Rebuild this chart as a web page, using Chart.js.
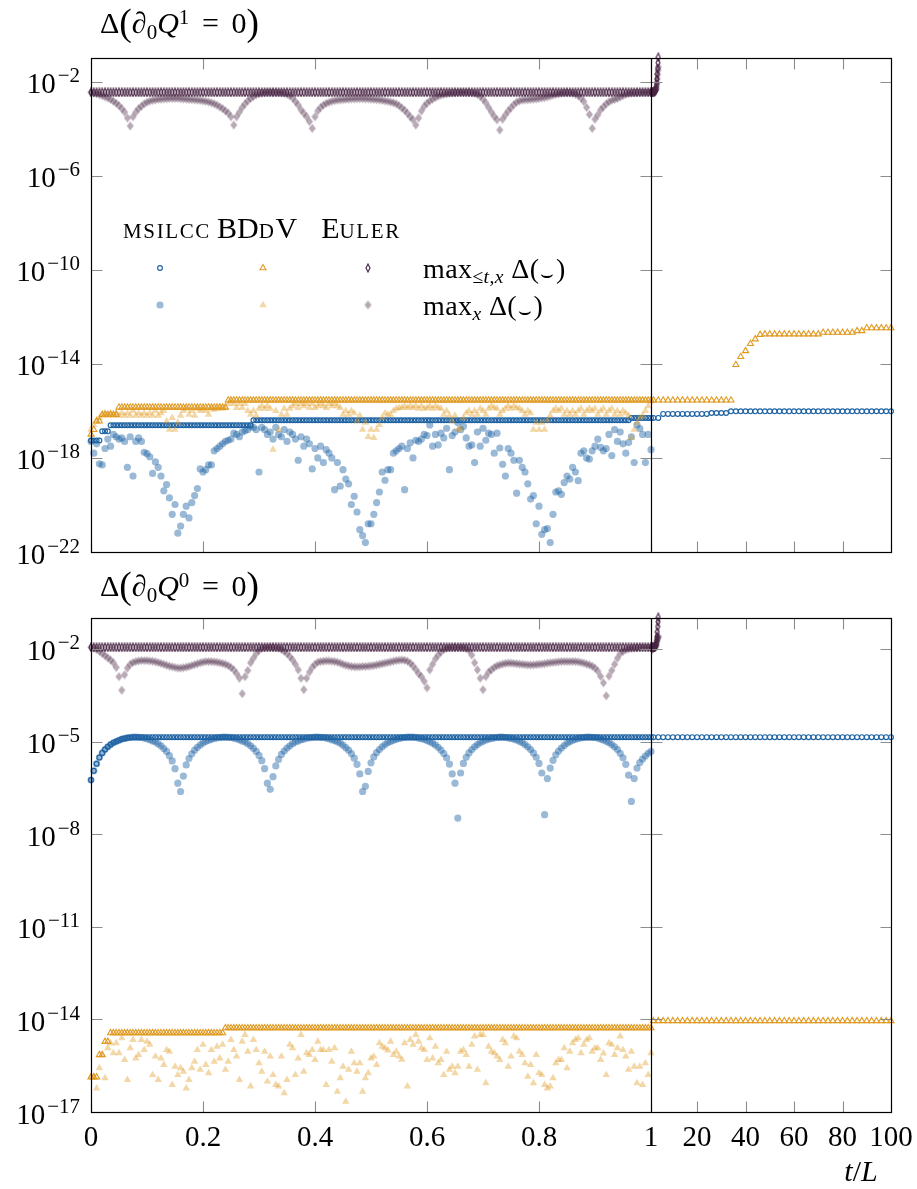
<!DOCTYPE html>
<html>
<head>
<meta charset="utf-8">
<script src="https://cdn.jsdelivr.net/npm/chart.js@4.4.1/dist/chart.umd.min.js"></script>
<style>
  body { margin: 0; background: #fff; width: 917px; height: 1189px; position: relative; overflow: hidden; }
  canvas { position: absolute; left: 0; }
  .lbl { position: absolute; font-family: 'Liberation Serif', serif; white-space: nowrap; color: #000; }
  .lbl sub, .lbl sup { font-size: 0.7em; line-height: 0; position: relative; vertical-align: baseline; }
  .lbl sub { top: 0.28em; }
  .lbl sup { top: -0.45em; }
  .bp { font-size: 1.25em; line-height: 0; position: relative; top: 0.06em; }
  .rel { margin: 0 0.42em; }
  .sc { font-variant: small-caps; letter-spacing: 1.6px; }
  .cup { font-size: 0.75em; position: relative; top: 0.12em; margin: 0 0.05em; }
  .ttl { font-size: 30px; line-height: 30px; }
  .leg { font-size: 28px; line-height: 28px; letter-spacing: 0.4px; }
  .head { font-size: 30px; line-height: 30px; }
  .ctr { transform: translateX(-50%); }
</style>
</head>
<body>
<canvas id="q1" width="917" height="575" style="top:0"></canvas>
<canvas id="q0" width="917" height="599" style="top:590px"></canvas>

<div class="lbl ttl" style="left:100px;top:8px">Δ<span class="bp">(</span>∂<sub>0</sub><i>Q</i><sup>1</sup><span class="rel">=</span>0<span class="bp">)</span></div>
<div class="lbl ttl" style="left:100px;top:571px">Δ<span class="bp">(</span>∂<sub>0</sub><i>Q</i><sup>0</sup><span class="rel">=</span>0<span class="bp">)</span></div>

<div class="lbl head ctr sc" style="left:167px;top:213px">msilcc</div>
<div class="lbl head ctr" style="left:257px;top:213px">BD<span class="sc">d</span>V</div>
<div class="lbl head ctr" style="left:361px;top:213px">E<span class="sc">uler</span></div>
<div class="lbl leg" style="left:423px;top:255px">max<sub>≤<i>t</i>,<i>x</i></sub> Δ(<span class="cup">⌣</span>)</div>
<div class="lbl leg" style="left:423px;top:292px">max<sub><i>x</i></sub> Δ(<span class="cup">⌣</span>)</div>

<div class="lbl ttl ctr" style="left:861px;top:1156px"><i>t</i>/<i>L</i></div>

<script>
// ---- data (values are log10 of the plotted quantity) ----

// output times: 0..1 every 0.005, then the long run
const tEarly = Array.from({length: 201}, (_, i) => +(i * 0.005).toFixed(3));
const tLate = [2,4,6,8,10,12,14,16,18,20,22,24,26,28,30,32,34,36,38,40,42,44,46,48,50,
  52,54,56,58,60,62,64,66,68,70,72,74,76,78,80,82,84,86,88,90,92,94,96,98,100];
const tEulerLate = [1.2,1.5,1.8,2.1,2.4,2.7,3.0,3.15,3.3,3.45,3.6,3.75,3.9,4.0];

const xTicks = [0, 0.2, 0.4, 0.6, 0.8, 1, 20, 40, 60, 80, 100];
const xTickLabels = ['0', '0.2', '0.4', '0.6', '0.8', '1', '20', '40', '60', '80', '100'];
const q1YTicks = [-22, -18, -14, -10, -6, -2];
const q0YTicks = [-17, -14, -11, -8, -5, -2];

// --- dQ1 = 0 panel ---
const q1MsilccMax = [
  -17.26,-17.26,-17.26,-17.26,-16.87,-16.87,-16.87,-16.61,-16.61,-16.61,
  -16.61,-16.61,-16.61,-16.61,-16.61,-16.61,-16.61,-16.61,-16.61,-16.61,
  -16.61,-16.61,-16.61,-16.61,-16.61,-16.61,-16.61,-16.61,-16.61,-16.61,
  -16.61,-16.61,-16.61,-16.61,-16.61,-16.61,-16.61,-16.61,-16.61,-16.61,
  -16.61,-16.61,-16.61,-16.61,-16.61,-16.61,-16.61,-16.61,-16.61,-16.61,
  -16.61,-16.61,-16.61,-16.61,-16.61,-16.61,-16.61,-16.61,-16.4,-16.4,
  -16.4,-16.4,-16.4,-16.4,-16.4,-16.4,-16.4,-16.4,-16.4,-16.4,
  -16.4,-16.4,-16.4,-16.4,-16.4,-16.4,-16.4,-16.4,-16.4,-16.4,
  -16.4,-16.4,-16.4,-16.4,-16.4,-16.4,-16.4,-16.4,-16.4,-16.4,
  -16.4,-16.4,-16.4,-16.4,-16.4,-16.4,-16.4,-16.4,-16.4,-16.4,
  -16.4,-16.4,-16.4,-16.4,-16.4,-16.4,-16.4,-16.4,-16.4,-16.4,
  -16.4,-16.4,-16.4,-16.4,-16.4,-16.4,-16.4,-16.4,-16.4,-16.4,
  -16.4,-16.4,-16.4,-16.4,-16.4,-16.4,-16.4,-16.4,-16.4,-16.4,
  -16.4,-16.4,-16.4,-16.4,-16.4,-16.4,-16.4,-16.4,-16.4,-16.4,
  -16.4,-16.4,-16.4,-16.4,-16.4,-16.4,-16.4,-16.4,-16.4,-16.4,
  -16.4,-16.4,-16.4,-16.4,-16.4,-16.4,-16.4,-16.4,-16.4,-16.4,
  -16.4,-16.4,-16.4,-16.4,-16.4,-16.4,-16.4,-16.4,-16.4,-16.4,
  -16.4,-16.4,-16.4,-16.4,-16.4,-16.4,-16.4,-16.4,-16.4,-16.4,
  -16.4,-16.4,-16.4,-16.4,-16.4,-16.4,-16.4,-16.4,-16.4,-16.4,
  -16.4,-16.4,-16.4,-16.3,-16.3,-16.3,-16.3,-16.3,-16.3,-16.3,
  -16.3
];
const q1MsilccMaxLate = [-16.3,-16.3,-16.13,-16.13,-16.13,-16.13,-16.13,-16.13,-16.13,-16.13,
  -16.13,-16.13,-16.09,-16.09,-16.09,-16.09,-16.02,-16.02,-16.02,-16.02,
  -16.02,-16.02,-16.02,-16.02,-16.02,-16.02,-16.02,-16.02,-16.02,-16.02,
  -16.02,-16.02,-16.02,-16.02,-16.02,-16.02,-16.02,-16.02,-16.02,-16.02,
  -16.02,-16.02,-16.02,-16.02,-16.02,-16.02,-16.02,-16.02,-16.02,-16.02];
const q1MsilccNow = [
  -17.3,-17.8,-17.4,-18.25,-18.3,-17.6,-17.2,-17.5,-17.0,-17.1,
  -17.2,-17.15,-17.3,-18.4,-17.1,-18.77,-17.3,-17.15,-17.3,-17.76,
  -17.82,-17.95,-18.66,-18.17,-18.4,-18.77,-19.4,-19.13,-19.7,-20.4,
  -19.98,-21.2,-20.9,-20.4,-20.05,-20.55,-19.9,-19.6,-19.3,-18.47,
  -18.6,-18.5,-18.3,-18.3,-17.7,-17.6,-17.5,-17.4,-17.3,-17.25,
  -17.2,-16.95,-17.0,-17.1,-16.9,-16.85,-16.8,-16.66,-16.7,-16.8,
  -18.6,-16.7,-16.8,-17.0,-16.9,-17.2,-16.7,-17.0,-17.1,-16.8,
  -17.3,-16.9,-17.0,-17.2,-18.1,-17.1,-17.5,-17.2,-17.4,-18.47,
  -17.6,-18.0,-17.5,-18.2,-17.65,-17.8,-18.0,-19.35,-18.2,-19.2,
  -18.5,-18.9,-19.1,-19.98,-19.63,-20.3,-21.05,-21.3,-21.6,-20.8,
  -20.8,-20.4,-19.9,-19.45,-18.6,-18.95,-18.5,-18.5,-17.8,-17.7,
  -17.6,-17.5,-19.35,-17.6,-17.36,-18.0,-17.25,-17.3,-17.2,-17.0,
  -17.05,-16.6,-17.5,-17.0,-17.45,-16.95,-17.15,-16.74,-18.5,-17.05,
  -16.9,-16.5,-16.8,-16.66,-17.15,-17.5,-17.45,-18.2,-16.9,-17.5,
  -16.74,-17.25,-16.95,-17.0,-17.8,-16.95,-17.58,-18.27,-18.77,-17.6,
  -17.8,-18.1,-19.5,-18.1,-18.4,-18.6,-19.1,-19.75,-19.6,-20.8,
  -20.05,-21.25,-21.05,-21.0,-21.6,-20.4,-19.45,-19.4,-19.55,-19.05,
  -18.77,-18.9,-18.4,-18.6,-18.97,-17.8,-17.7,-18.0,-18.05,-17.7,
  -17.5,-17.2,-17.55,-17.7,-17.6,-17.0,-17.9,-16.8,-17.3,-16.9,
  -17.4,-17.8,-17.35,-17.1,-18.2,-16.6,-16.75,-17.0,-18.2,-17.0,
  -17.65
];
const q1BddvMax = [
  -17.0,-16.8,-16.44,-16.44,-16.16,-16.16,-16.16,-16.16,-16.16,-16.16,
  -15.85,-15.85,-15.85,-15.85,-15.85,-15.85,-15.85,-15.85,-15.85,-15.85,
  -15.85,-15.85,-15.85,-15.85,-15.85,-15.85,-15.85,-15.85,-15.85,-15.85,
  -15.85,-15.85,-15.85,-15.85,-15.85,-15.85,-15.85,-15.85,-15.85,-15.85,
  -15.85,-15.85,-15.85,-15.85,-15.85,-15.85,-15.85,-15.85,-15.85,-15.55,
  -15.55,-15.55,-15.55,-15.55,-15.55,-15.55,-15.55,-15.55,-15.55,-15.55,
  -15.55,-15.55,-15.55,-15.55,-15.55,-15.55,-15.55,-15.55,-15.55,-15.55,
  -15.55,-15.55,-15.55,-15.55,-15.55,-15.55,-15.55,-15.55,-15.55,-15.55,
  -15.55,-15.55,-15.55,-15.55,-15.55,-15.55,-15.55,-15.55,-15.55,-15.55,
  -15.55,-15.55,-15.55,-15.55,-15.55,-15.55,-15.55,-15.55,-15.55,-15.55,
  -15.55,-15.55,-15.55,-15.55,-15.55,-15.55,-15.55,-15.55,-15.55,-15.55,
  -15.55,-15.55,-15.55,-15.55,-15.55,-15.55,-15.55,-15.55,-15.55,-15.55,
  -15.55,-15.55,-15.55,-15.55,-15.55,-15.55,-15.55,-15.55,-15.55,-15.55,
  -15.55,-15.55,-15.55,-15.55,-15.55,-15.55,-15.55,-15.55,-15.55,-15.55,
  -15.55,-15.55,-15.55,-15.55,-15.55,-15.55,-15.55,-15.55,-15.55,-15.55,
  -15.55,-15.55,-15.55,-15.55,-15.55,-15.55,-15.55,-15.55,-15.55,-15.55,
  -15.55,-15.55,-15.55,-15.55,-15.55,-15.55,-15.55,-15.55,-15.55,-15.55,
  -15.55,-15.55,-15.55,-15.55,-15.55,-15.55,-15.55,-15.55,-15.55,-15.55,
  -15.55,-15.55,-15.55,-15.55,-15.55,-15.55,-15.55,-15.55,-15.55,-15.55,
  -15.55,-15.55,-15.55,-15.55,-15.55,-15.55,-15.55,-15.55,-15.55,-15.55,
  -15.55
];
const q1BddvMaxLate = [-15.55,-15.55,-15.55,-15.55,-15.55,-15.55,-15.55,-15.55,-15.55,-15.55,
  -15.55,-15.55,-15.55,-15.55,-15.55,-15.55,-15.55,-14.04,-13.7,-13.45,
  -13.15,-12.95,-12.76,-12.74,-12.74,-12.74,-12.74,-12.74,-12.74,-12.74,
  -12.74,-12.74,-12.74,-12.74,-12.74,-12.67,-12.67,-12.67,-12.67,-12.67,
  -12.67,-12.67,-12.6,-12.6,-12.48,-12.48,-12.48,-12.48,-12.48,-12.48];
const q1BddvNow = [
  -16.8,-16.6,-16.4,-16.3,-16.2,-16.1,-16.2,-16.1,-16.2,-16.1,
  -16.2,-16.1,-16.2,-16.1,-16.2,-16.0,-16.2,-16.1,-16.2,-16.1,
  -16.2,-16.1,-16.2,-16.0,-16.2,-16.1,-16.0,-16.44,-16.8,-16.3,
  -16.8,-16.5,-16.2,-16.0,-15.9,-16.16,-16.0,-16.2,-15.9,-16.0,
  -15.9,-16.0,-16.16,-15.9,-15.95,-15.9,-15.85,-15.9,-15.85,-15.7,
  -15.6,-15.7,-15.87,-15.7,-15.87,-15.7,-16.0,-16.16,-16.0,-16.2,
  -15.9,-15.8,-15.9,-15.8,-15.9,-17.65,-16.0,-16.8,-16.16,-15.9,
  -16.16,-15.9,-15.8,-15.7,-15.87,-15.7,-15.8,-15.7,-15.87,-15.7,
  -15.87,-15.8,-15.7,-15.8,-15.87,-15.7,-15.8,-15.7,-15.8,-15.87,
  -16.16,-16.0,-16.16,-16.0,-16.1,-16.44,-16.2,-16.8,-16.5,-17.1,
  -16.8,-17.15,-16.8,-16.6,-16.3,-16.1,-16.16,-16.16,-16.0,-15.9,
  -15.87,-15.87,-15.8,-15.87,-15.8,-15.87,-15.8,-15.9,-15.8,-15.9,
  -15.87,-15.8,-15.9,-15.8,-15.87,-15.9,-16.16,-16.0,-16.2,-16.44,
  -16.2,-16.8,-16.75,-16.3,-16.1,-16.0,-16.16,-16.0,-16.16,-15.9,
  -16.0,-16.16,-15.9,-15.8,-15.87,-15.9,-16.16,-16.0,-15.9,-15.8,
  -15.9,-15.8,-15.87,-15.9,-16.0,-16.16,-16.0,-16.1,-16.8,-16.5,
  -16.8,-16.5,-16.8,-16.4,-16.2,-16.0,-15.9,-16.0,-15.9,-16.16,
  -16.0,-16.16,-16.0,-16.16,-16.0,-15.9,-16.16,-16.0,-15.9,-16.0,
  -15.9,-16.16,-16.0,-15.9,-16.16,-16.0,-15.9,-16.16,-16.0,-16.16,
  -16.0,-16.1,-16.2,-17.15,-16.8,-16.5,-16.3,-16.2,-16.0,-15.8,
  -15.6
];
const q1EulerMax = [
  -2.46,-2.46,-2.46,-2.46,-2.46,-2.46,-2.46,-2.46,-2.46,-2.46,
  -2.46,-2.46,-2.46,-2.46,-2.46,-2.46,-2.46,-2.46,-2.46,-2.46,
  -2.46,-2.46,-2.46,-2.46,-2.46,-2.46,-2.46,-2.46,-2.46,-2.46,
  -2.46,-2.46,-2.46,-2.46,-2.46,-2.46,-2.46,-2.46,-2.46,-2.46,
  -2.46,-2.46,-2.46,-2.46,-2.46,-2.46,-2.46,-2.46,-2.46,-2.46,
  -2.46,-2.46,-2.46,-2.46,-2.46,-2.46,-2.46,-2.46,-2.46,-2.46,
  -2.46,-2.46,-2.46,-2.46,-2.46,-2.46,-2.46,-2.46,-2.46,-2.46,
  -2.46,-2.46,-2.46,-2.46,-2.46,-2.46,-2.46,-2.46,-2.46,-2.46,
  -2.46,-2.46,-2.46,-2.46,-2.46,-2.46,-2.46,-2.46,-2.46,-2.46,
  -2.46,-2.46,-2.46,-2.46,-2.46,-2.46,-2.46,-2.46,-2.46,-2.46,
  -2.46,-2.46,-2.46,-2.46,-2.46,-2.46,-2.46,-2.46,-2.46,-2.46,
  -2.46,-2.46,-2.46,-2.46,-2.46,-2.46,-2.46,-2.46,-2.46,-2.46,
  -2.46,-2.46,-2.46,-2.46,-2.46,-2.46,-2.46,-2.46,-2.46,-2.46,
  -2.46,-2.46,-2.46,-2.46,-2.46,-2.46,-2.46,-2.46,-2.46,-2.46,
  -2.46,-2.46,-2.46,-2.46,-2.46,-2.46,-2.46,-2.46,-2.46,-2.46,
  -2.46,-2.46,-2.46,-2.46,-2.46,-2.46,-2.46,-2.46,-2.46,-2.46,
  -2.46,-2.46,-2.46,-2.46,-2.46,-2.46,-2.46,-2.46,-2.46,-2.46,
  -2.46,-2.46,-2.46,-2.46,-2.46,-2.46,-2.46,-2.46,-2.46,-2.46,
  -2.46,-2.46,-2.46,-2.46,-2.46,-2.46,-2.46,-2.46,-2.46,-2.46,
  -2.46,-2.46,-2.46,-2.46,-2.46,-2.46,-2.46,-2.46,-2.46,-2.46,
  -2.46
];
const q1EulerMaxLate = [-2.46,-2.46,-2.46,-2.45,-2.44,-2.42,-2.36,-2.25,-2.1,-1.9,-1.68,-1.45,-1.2,-0.97];
const q1EulerNow = [
  -2.46,-2.48,-2.52,-2.56,-2.6,-2.65,-2.7,-2.76,-2.84,-2.92,
  -3.02,-3.15,-3.3,-3.55,-3.89,-3.5,-3.3,-3.15,-3.05,-2.95,
  -2.88,-2.83,-2.8,-2.78,-2.76,-2.75,-2.74,-2.73,-2.72,-2.72,
  -2.72,-2.72,-2.73,-2.74,-2.75,-2.76,-2.77,-2.78,-2.79,-2.8,
  -2.82,-2.84,-2.87,-2.9,-2.95,-3.0,-3.08,-3.15,-3.25,-3.34,
  -3.5,-3.85,-3.5,-3.3,-3.1,-2.95,-2.82,-2.72,-2.64,-2.57,
  -2.52,-2.49,-2.47,-2.46,-2.46,-2.46,-2.46,-2.47,-2.48,-2.5,
  -2.54,-2.6,-2.7,-2.85,-3.0,-3.2,-3.35,-3.5,-3.7,-3.99,
  -3.5,-3.25,-3.1,-3.0,-2.93,-2.88,-2.84,-2.81,-2.79,-2.78,
  -2.77,-2.76,-2.75,-2.74,-2.74,-2.73,-2.73,-2.73,-2.74,-2.74,
  -2.75,-2.76,-2.77,-2.78,-2.8,-2.82,-2.84,-2.87,-2.9,-2.95,
  -3.02,-3.12,-3.22,-3.35,-3.5,-3.62,-3.85,-3.55,-3.25,-3.05,
  -2.92,-2.82,-2.75,-2.68,-2.62,-2.58,-2.55,-2.52,-2.5,-2.48,
  -2.47,-2.46,-2.46,-2.46,-2.46,-2.46,-2.47,-2.5,-2.55,-2.62,
  -2.75,-2.9,-3.1,-3.3,-3.48,-3.63,-4.06,-3.6,-3.42,-3.25,
  -3.12,-2.98,-2.88,-2.82,-2.79,-2.78,-2.77,-2.76,-2.75,-2.74,
  -2.72,-2.7,-2.68,-2.65,-2.62,-2.58,-2.55,-2.52,-2.5,-2.48,
  -2.47,-2.48,-2.5,-2.54,-2.6,-2.7,-2.85,-3.1,-3.4,-3.99,
  -3.6,-3.42,-3.2,-3.08,-2.95,-2.86,-2.8,-2.76,-2.72,-2.66,
  -2.6,-2.55,-2.51,-2.49,-2.48,-2.47,-2.46,-2.46,-2.46,-2.46,
  -2.46
];
const q1EulerNowLate = [-2.4,-2.44,-2.47,-2.42,-2.38,-2.4,-2.35,-2.3,-2.2,-2.05,-1.88,-1.7,-1.52,-1.38];

// --- dQ0 = 0 panel ---
const q0MsilccMax = [
  -6.25,-5.95,-5.72,-5.52,-5.37,-5.26,-5.17,-5.1,-5.04,-5.0,
  -4.96,-4.92,-4.9,-4.88,-4.87,-4.86,-4.86,-4.86,-4.86,-4.86,
  -4.86,-4.86,-4.86,-4.86,-4.86,-4.86,-4.86,-4.86,-4.86,-4.86,
  -4.86,-4.86,-4.86,-4.86,-4.86,-4.86,-4.86,-4.86,-4.86,-4.86,
  -4.86,-4.86,-4.86,-4.86,-4.86,-4.86,-4.86,-4.86,-4.86,-4.86,
  -4.86,-4.86,-4.86,-4.86,-4.86,-4.86,-4.86,-4.86,-4.86,-4.86,
  -4.86,-4.86,-4.86,-4.86,-4.86,-4.86,-4.86,-4.86,-4.86,-4.86,
  -4.86,-4.86,-4.86,-4.86,-4.86,-4.86,-4.86,-4.86,-4.86,-4.86,
  -4.86,-4.86,-4.86,-4.86,-4.86,-4.86,-4.86,-4.86,-4.86,-4.86,
  -4.86,-4.86,-4.86,-4.86,-4.86,-4.86,-4.86,-4.86,-4.86,-4.86,
  -4.86,-4.86,-4.86,-4.86,-4.86,-4.86,-4.86,-4.86,-4.86,-4.86,
  -4.86,-4.86,-4.86,-4.86,-4.86,-4.86,-4.86,-4.86,-4.86,-4.86,
  -4.86,-4.86,-4.86,-4.86,-4.86,-4.86,-4.86,-4.86,-4.86,-4.86,
  -4.86,-4.86,-4.86,-4.86,-4.86,-4.86,-4.86,-4.86,-4.86,-4.86,
  -4.86,-4.86,-4.86,-4.86,-4.86,-4.86,-4.86,-4.86,-4.86,-4.86,
  -4.86,-4.86,-4.86,-4.86,-4.86,-4.86,-4.86,-4.86,-4.86,-4.86,
  -4.86,-4.86,-4.86,-4.86,-4.86,-4.86,-4.86,-4.86,-4.86,-4.86,
  -4.86,-4.86,-4.86,-4.86,-4.86,-4.86,-4.86,-4.86,-4.86,-4.86,
  -4.86,-4.86,-4.86,-4.86,-4.86,-4.86,-4.86,-4.86,-4.86,-4.86,
  -4.86,-4.86,-4.86,-4.86,-4.86,-4.86,-4.86,-4.86,-4.86,-4.86,
  -4.86
];
const q0MsilccMaxLate = [-4.86,-4.86,-4.86,-4.86,-4.86,-4.86,-4.86,-4.86,-4.86,-4.86,
  -4.86,-4.86,-4.86,-4.86,-4.86,-4.86,-4.86,-4.86,-4.86,-4.86,
  -4.86,-4.86,-4.86,-4.86,-4.86,-4.86,-4.86,-4.86,-4.86,-4.86,
  -4.86,-4.86,-4.86,-4.86,-4.86,-4.86,-4.86,-4.86,-4.86,-4.86,
  -4.86,-4.86,-4.86,-4.86,-4.86,-4.86,-4.86,-4.86,-4.86,-4.86];
const q0MsilccNow = [
  -6.25,-5.95,-5.72,-5.52,-5.37,-5.26,-5.17,-5.1,-5.04,-5.0,
  -4.96,-4.92,-4.9,-4.88,-4.87,-4.86,-4.86,-4.865,-4.87,-4.89,
  -4.91,-4.94,-4.98,-5.02,-5.08,-5.14,-5.23,-5.32,-5.46,-5.63,
  -5.88,-6.35,-6.62,-6.12,-5.76,-5.55,-5.4,-5.28,-5.19,-5.11,
  -5.05,-5.0,-4.96,-4.93,-4.9,-4.88,-4.87,-4.86,-4.86,-4.865,
  -4.87,-4.89,-4.91,-4.94,-4.98,-5.02,-5.07,-5.14,-5.22,-5.32,
  -5.45,-5.62,-5.88,-6.35,-6.55,-6.14,-5.79,-5.58,-5.42,-5.31,
  -5.21,-5.14,-5.07,-5.02,-4.98,-4.94,-4.92,-4.89,-4.88,-4.87,
  -4.86,-4.86,-4.865,-4.87,-4.89,-4.91,-4.94,-4.97,-5.01,-5.06,
  -5.12,-5.2,-5.28,-5.39,-5.54,-5.74,-6.05,-6.62,-6.45,-5.97,
  -5.69,-5.5,-5.36,-5.26,-5.17,-5.1,-5.04,-5.0,-4.96,-4.93,
  -4.9,-4.88,-4.87,-4.86,-4.86,-4.86,-4.87,-4.89,-4.91,-4.93,
  -4.97,-5.01,-5.06,-5.11,-5.19,-5.28,-5.39,-5.53,-5.73,-6.05,
  -6.35,-7.48,-6.02,-5.71,-5.51,-5.37,-5.26,-5.17,-5.1,-5.04,
  -4.99,-4.95,-4.92,-4.9,-4.88,-4.87,-4.86,-4.86,-4.87,-4.88,
  -4.9,-4.92,-4.95,-4.99,-5.04,-5.1,-5.17,-5.26,-5.37,-5.51,
  -5.71,-6.02,-7.37,-6.2,-5.86,-5.61,-5.43,-5.31,-5.21,-5.13,
  -5.06,-5.01,-4.96,-4.93,-4.9,-4.88,-4.87,-4.86,-4.86,-4.865,
  -4.87,-4.89,-4.92,-4.95,-4.99,-5.04,-5.1,-5.17,-5.26,-5.38,
  -5.53,-5.74,-6.09,-6.94,-6.2,-5.86,-5.68,-5.57,-5.47,-5.38,
  -5.32
];
const q0BddvMax = [
  -15.87,-15.87,-15.87,-15.15,-15.15,-14.72,-14.72,-14.44,-14.44,-14.44,
  -14.44,-14.44,-14.44,-14.44,-14.44,-14.44,-14.44,-14.44,-14.44,-14.44,
  -14.44,-14.44,-14.44,-14.44,-14.44,-14.44,-14.44,-14.44,-14.44,-14.44,
  -14.44,-14.44,-14.44,-14.44,-14.44,-14.44,-14.44,-14.44,-14.44,-14.44,
  -14.44,-14.44,-14.44,-14.44,-14.44,-14.44,-14.44,-14.44,-14.28,-14.28,
  -14.28,-14.28,-14.28,-14.28,-14.28,-14.28,-14.28,-14.28,-14.28,-14.28,
  -14.28,-14.28,-14.28,-14.28,-14.28,-14.28,-14.28,-14.28,-14.28,-14.28,
  -14.28,-14.28,-14.28,-14.28,-14.28,-14.28,-14.28,-14.28,-14.28,-14.28,
  -14.28,-14.28,-14.28,-14.28,-14.28,-14.28,-14.28,-14.28,-14.28,-14.28,
  -14.28,-14.28,-14.28,-14.28,-14.28,-14.28,-14.28,-14.28,-14.28,-14.28,
  -14.28,-14.28,-14.28,-14.28,-14.28,-14.28,-14.28,-14.28,-14.28,-14.28,
  -14.28,-14.28,-14.28,-14.28,-14.28,-14.28,-14.28,-14.28,-14.28,-14.28,
  -14.28,-14.28,-14.28,-14.28,-14.28,-14.28,-14.28,-14.28,-14.28,-14.28,
  -14.28,-14.28,-14.28,-14.28,-14.28,-14.28,-14.28,-14.28,-14.28,-14.28,
  -14.28,-14.28,-14.28,-14.28,-14.28,-14.28,-14.28,-14.28,-14.28,-14.28,
  -14.28,-14.28,-14.28,-14.28,-14.28,-14.28,-14.28,-14.28,-14.28,-14.28,
  -14.28,-14.28,-14.28,-14.28,-14.28,-14.28,-14.28,-14.28,-14.28,-14.28,
  -14.28,-14.28,-14.28,-14.28,-14.28,-14.28,-14.28,-14.28,-14.28,-14.28,
  -14.28,-14.28,-14.28,-14.28,-14.28,-14.28,-14.28,-14.28,-14.28,-14.28,
  -14.28,-14.28,-14.28,-14.28,-14.28,-14.28,-14.28,-14.28,-14.28,-14.28,
  -14.28
];
const q0BddvMaxLate = [-14.05,-14.05,-14.05,-14.05,-14.05,-14.05,-14.05,-14.05,-14.05,-14.05,
  -14.05,-14.05,-14.05,-14.05,-14.05,-14.05,-14.05,-14.05,-14.05,-14.05,
  -14.05,-14.05,-14.05,-14.05,-14.05,-14.05,-14.05,-14.05,-14.05,-14.05,
  -14.05,-14.05,-14.05,-14.05,-14.05,-14.05,-14.05,-14.05,-14.05,-14.05,
  -14.05,-14.05,-14.05,-14.05,-14.05,-14.05,-14.05,-14.05,-14.05,-14.05];
const q0BddvNow = [
  -15.85,-15.85,-16.23,-15.58,-15.15,-15.9,-14.93,-14.77,-15.09,-14.77,
  -15.09,-14.61,-15.31,-15.96,-14.93,-14.66,-15.26,-15.15,-14.66,-14.99,
  -14.72,-14.82,-15.8,-15.2,-15.96,-15.26,-15.47,-14.99,-15.04,-16.12,
  -15.53,-15.8,-15.58,-15.69,-16.23,-15.96,-15.58,-15.37,-14.99,-15.63,
  -14.82,-15.47,-15.74,-14.99,-15.37,-14.88,-15.26,-14.82,-15.63,-15.37,
  -14.66,-14.99,-15.2,-15.96,-14.72,-14.5,-15.04,-16.17,-14.66,-14.99,
  -15.42,-15.69,-15.04,-16.01,-15.2,-15.8,-16.12,-16.17,-15.2,-16.39,
  -15.96,-14.82,-14.93,-15.8,-15.26,-14.5,-15.69,-15.09,-15.15,-14.99,
  -15.31,-14.72,-14.99,-14.99,-16.12,-14.99,-15.37,-14.93,-16.34,-15.9,
  -15.53,-16.66,-15.63,-15.04,-15.42,-15.69,-15.42,-16.34,-15.9,-15.74,
  -15.26,-15.2,-15.47,-14.77,-14.88,-14.93,-15.0,-14.72,-15.15,-15.04,
  -15.2,-15.3,-14.77,-16.17,-14.66,-14.82,-14.5,-14.72,-14.93,-14.99,
  -15.31,-14.61,-15.26,-14.88,-15.42,-15.31,-15.8,-15.04,-15.63,-15.53,
  -15.74,-15.53,-15.04,-14.99,-15.15,-15.53,-14.82,-14.55,-15.63,-14.5,
  -14.5,-16.06,-14.88,-15.04,-15.09,-15.2,-15.31,-14.66,-14.77,-15.53,
  -15.2,-14.55,-14.61,-15.04,-15.15,-15.42,-15.85,-15.47,-16.06,-15.15,
  -15.74,-15.8,-16.12,-16.23,-16.17,-15.9,-15.42,-15.31,-15.31,-14.93,
  -15.58,-15.04,-14.77,-14.66,-14.61,-15.09,-14.82,-14.66,-14.61,-15.04,
  -14.93,-14.93,-15.31,-15.1,-15.8,-14.77,-14.82,-15.15,-14.93,-14.55,
  -14.99,-15.2,-15.63,-15.04,-15.53,-16.06,-15.53,-16.12,-15.42,-15.8,
  -15.09
];
const q0EulerMax = [
  -1.95,-1.95,-1.95,-1.95,-1.95,-1.95,-1.95,-1.95,-1.95,-1.95,
  -1.95,-1.95,-1.95,-1.95,-1.95,-1.95,-1.95,-1.95,-1.95,-1.95,
  -1.95,-1.95,-1.95,-1.95,-1.95,-1.95,-1.95,-1.95,-1.95,-1.95,
  -1.95,-1.95,-1.95,-1.95,-1.95,-1.95,-1.95,-1.95,-1.95,-1.95,
  -1.95,-1.95,-1.95,-1.95,-1.95,-1.95,-1.95,-1.95,-1.95,-1.95,
  -1.95,-1.95,-1.95,-1.95,-1.95,-1.95,-1.95,-1.95,-1.95,-1.95,
  -1.95,-1.95,-1.95,-1.95,-1.95,-1.95,-1.95,-1.95,-1.95,-1.95,
  -1.95,-1.95,-1.95,-1.95,-1.95,-1.95,-1.95,-1.95,-1.95,-1.95,
  -1.95,-1.95,-1.95,-1.95,-1.95,-1.95,-1.95,-1.95,-1.95,-1.95,
  -1.95,-1.95,-1.95,-1.95,-1.95,-1.95,-1.95,-1.95,-1.95,-1.95,
  -1.95,-1.95,-1.95,-1.95,-1.95,-1.95,-1.95,-1.95,-1.95,-1.95,
  -1.95,-1.95,-1.95,-1.95,-1.95,-1.95,-1.95,-1.95,-1.95,-1.95,
  -1.95,-1.95,-1.95,-1.95,-1.95,-1.95,-1.95,-1.95,-1.95,-1.95,
  -1.95,-1.95,-1.95,-1.95,-1.95,-1.95,-1.95,-1.95,-1.95,-1.95,
  -1.95,-1.95,-1.95,-1.95,-1.95,-1.95,-1.95,-1.95,-1.95,-1.95,
  -1.95,-1.95,-1.95,-1.95,-1.95,-1.95,-1.95,-1.95,-1.95,-1.95,
  -1.95,-1.95,-1.95,-1.95,-1.95,-1.95,-1.95,-1.95,-1.95,-1.95,
  -1.95,-1.95,-1.95,-1.95,-1.95,-1.95,-1.95,-1.95,-1.95,-1.95,
  -1.95,-1.95,-1.95,-1.95,-1.95,-1.95,-1.95,-1.95,-1.95,-1.95,
  -1.95,-1.95,-1.95,-1.95,-1.95,-1.95,-1.95,-1.95,-1.95,-1.95,
  -1.95
];
const q0EulerMaxLate = [-1.95,-1.95,-1.95,-1.95,-1.94,-1.93,-1.9,-1.84,-1.74,-1.6,-1.45,-1.28,-1.12,-0.98];
const q0EulerNow = [
  -1.95,-1.98,-2.02,-2.08,-2.15,-2.22,-2.29,-2.36,-2.45,-2.6,
  -2.9,-3.34,-2.84,-2.62,-2.5,-2.44,-2.41,-2.39,-2.38,-2.38,
  -2.38,-2.39,-2.4,-2.42,-2.44,-2.47,-2.5,-2.53,-2.56,-2.58,
  -2.6,-2.62,-2.62,-2.61,-2.59,-2.57,-2.54,-2.51,-2.48,-2.45,
  -2.43,-2.41,-2.41,-2.41,-2.42,-2.43,-2.45,-2.47,-2.5,-2.54,
  -2.6,-2.68,-2.8,-2.95,-3.45,-2.9,-2.7,-2.45,-2.3,-2.15,
  -2.05,-1.98,-1.96,-1.95,-1.95,-1.95,-1.96,-1.98,-2.02,-2.08,
  -2.15,-2.25,-2.36,-2.5,-2.68,-2.95,-3.32,-2.95,-2.75,-2.6,
  -2.5,-2.43,-2.41,-2.4,-2.39,-2.39,-2.4,-2.41,-2.43,-2.46,
  -2.5,-2.53,-2.55,-2.57,-2.58,-2.58,-2.58,-2.57,-2.57,-2.56,
  -2.55,-2.54,-2.52,-2.5,-2.48,-2.46,-2.44,-2.42,-2.4,-2.38,
  -2.37,-2.36,-2.37,-2.4,-2.46,-2.55,-2.67,-2.8,-2.9,-3.05,
  -3.26,-2.68,-2.5,-2.32,-2.2,-2.1,-2.02,-1.98,-1.96,-1.95,
  -1.95,-1.95,-1.95,-1.96,-1.98,-2.05,-2.2,-2.45,-2.68,-2.95,
  -3.32,-2.9,-2.75,-2.68,-2.6,-2.55,-2.52,-2.49,-2.47,-2.46,
  -2.46,-2.47,-2.48,-2.49,-2.5,-2.51,-2.52,-2.52,-2.52,-2.51,
  -2.5,-2.49,-2.48,-2.46,-2.45,-2.44,-2.43,-2.42,-2.41,-2.41,
  -2.41,-2.41,-2.41,-2.41,-2.42,-2.44,-2.46,-2.49,-2.52,-2.56,
  -2.62,-2.72,-2.89,-3.1,-3.52,-2.88,-2.7,-2.5,-2.3,-2.15,
  -2.08,-2.03,-2.0,-1.98,-1.97,-1.96,-1.95,-1.95,-1.95,-1.95,
  -1.95
];
const q0EulerNowLate = [-1.98,-2.02,-2.0,-1.96,-1.93,-1.95,-1.9,-1.86,-1.8,-1.74,-1.69,-1.65,-1.62,-1.6];

// ---- broken time axis: 0..1 takes 560px, 1..100 takes 240px ----
const LATE_SPAN = 240 / 560;
const X_MAX = 1 + LATE_SPAN;
function mapT(t) {
  return t <= 1 ? t : 1 + (t - 1) / 99 * LATE_SPAN;
}

const BLUE = '#1f63a3', ORANGE = '#e09a22', PLUM = '#4a2746';

function diamond(w, h, fill, stroke, lw) {
  const c = document.createElement('canvas');
  c.width = w + 2;
  c.height = h + 2;
  const g = c.getContext('2d');
  g.beginPath();
  g.moveTo(c.width / 2, 1);
  g.lineTo(c.width - 1, c.height / 2);
  g.lineTo(c.width / 2, c.height - 1);
  g.lineTo(1, c.height / 2);
  g.closePath();
  if (fill) { g.fillStyle = fill; g.fill(); }
  if (stroke) { g.strokeStyle = stroke; g.lineWidth = lw; g.stroke(); }
  return c;
}

const styles = {
  msilccMax: {pointStyle: 'circle', pointRadius: 2.4, pointBorderWidth: 1.15, pointBorderColor: BLUE, pointBackgroundColor: 'rgba(0,0,0,0)', order: 4},
  msilccNow: {pointStyle: 'circle', pointRadius: 3.6, pointBorderWidth: 0, pointBackgroundColor: 'rgba(31,99,163,0.45)', order: 5},
  bddvMax: {pointStyle: 'triangle', pointRadius: 3.5, pointBorderWidth: 1.1, pointBorderColor: ORANGE, pointBackgroundColor: 'rgba(0,0,0,0)', order: 2},
  bddvNow: {pointStyle: 'triangle', pointRadius: 4.3, pointBorderWidth: 0, pointBackgroundColor: 'rgba(224,154,34,0.4)', order: 3},
  eulerMax: {pointStyle: diamond(4.5, 8, null, PLUM, 1.15), pointRadius: 3, pointBorderWidth: 0, order: 0},
  eulerNow: {pointStyle: diamond(7, 9, 'rgba(74,39,70,0.4)', null, 0), pointRadius: 3, pointBorderWidth: 0, order: 1}
};

function pts(ts, es) {
  return ts.map((t, i) => ({x: mapT(t), y: Math.pow(10, es[i])}));
}

function ds(label, data, style) {
  return Object.assign({label, data, showLine: false, clip: false, pointHoverRadius: 0}, style);
}

// frame, ticks and tick labels in the pgfplots manner
const frame = {
  id: 'frame',
  afterDatasetsDraw(chart, args, o) {
    const {ctx, chartArea: a, scales: {x, y}} = chart;
    const L = Math.round(a.left) + 0.5, R = Math.round(a.right) + 0.5;
    const T = Math.round(a.top) + 0.5, B = Math.round(a.bottom) + 0.5;
    const px = t => Math.round(x.getPixelForValue(mapT(t))) + 0.5;
    const py = e => Math.round(y.getPixelForValue(Math.pow(10, e))) + 0.5;
    const mid = px(1);
    const len = 11;
    ctx.save();
    ctx.strokeStyle = '#8c8c8c';
    ctx.lineWidth = 1.1;
    ctx.beginPath();
    xTicks.forEach(t => {
      const xx = px(t);
      ctx.moveTo(xx, T); ctx.lineTo(xx, T + len);
      ctx.moveTo(xx, B); ctx.lineTo(xx, B - len);
    });
    o.yTicks.forEach(e => {
      const yy = py(e);
      ctx.moveTo(L, yy); ctx.lineTo(L + len, yy);
      ctx.moveTo(R, yy); ctx.lineTo(R - len, yy);
      ctx.moveTo(mid - len, yy); ctx.lineTo(mid + len, yy);
    });
    ctx.stroke();

    ctx.strokeStyle = '#000';
    ctx.lineWidth = 1.2;
    ctx.strokeRect(L, T, R - L, B - T);
    ctx.beginPath();
    ctx.moveTo(mid, T); ctx.lineTo(mid, B);
    ctx.stroke();

    ctx.fillStyle = '#000';
    ctx.textAlign = 'right';
    ctx.textBaseline = 'alphabetic';
    o.yTicks.forEach(e => {
      const yy = y.getPixelForValue(Math.pow(10, e));
      const sup = '\u2212' + Math.abs(e);
      ctx.font = '21px "Liberation Serif", serif';
      const w = ctx.measureText(sup).width;
      ctx.fillText(sup, 80, yy + 0.5);
      ctx.font = '29px "Liberation Serif", serif';
      ctx.fillText('10', 80 - w - 2, yy + 11.5);
    });
    if (o.xLabels) {
      ctx.textAlign = 'center';
      ctx.font = '29px "Liberation Serif", serif';
      xTicks.forEach((t, i) => ctx.fillText(xTickLabels[i], x.getPixelForValue(mapT(t)), B + 33));
    }
    ctx.restore();
  }
};

// legend markers (text is in the page)
const legendMarks = {
  id: 'legendMarks',
  afterDraw(chart, args, o) {
    if (!o.slots) return;
    const ctx = chart.ctx;
    o.slots.forEach(s => {
      const d = chart.data.datasets[s.index];
      ctx.save();
      if (typeof d.pointStyle === 'object') {
        ctx.drawImage(d.pointStyle, s.x - d.pointStyle.width / 2, s.y - d.pointStyle.height / 2);
      } else {
        ctx.fillStyle = d.pointBackgroundColor;
        ctx.strokeStyle = d.pointBorderColor || 'transparent';
        ctx.lineWidth = d.pointBorderWidth;
        Chart.helpers.drawPoint(ctx, {pointStyle: d.pointStyle, radius: d.pointRadius, borderWidth: d.pointBorderWidth, rotation: 0}, s.x, s.y);
      }
      ctx.restore();
    });
  }
};

function panel(id, datasets, minExp, maxExp, pad, frameOpts, legendOpts) {
  return new Chart(document.getElementById(id), {
    type: 'scatter',
    data: {datasets},
    options: {
      responsive: false,
      animation: false,
      events: [],
      layout: {padding: pad},
      plugins: {
        legend: {display: false},
        tooltip: {enabled: false},
        frame: frameOpts,
        legendMarks: legendOpts
      },
      scales: {
        x: {type: 'linear', min: 0, max: X_MAX, display: false},
        y: {type: 'logarithmic', min: Math.pow(10, minExp), max: Math.pow(10, maxExp), display: false}
      }
    },
    plugins: [frame, legendMarks]
  });
}

panel('q1', [
  ds('msilcc max<=t,x', pts(tEarly, q1MsilccMax).concat(pts(tLate, q1MsilccMaxLate)), styles.msilccMax),
  ds('msilcc max_x', pts(tEarly, q1MsilccNow), styles.msilccNow),
  ds('BDdV max<=t,x', pts(tEarly, q1BddvMax).concat(pts(tLate, q1BddvMaxLate)), styles.bddvMax),
  ds('BDdV max_x', pts(tEarly, q1BddvNow), styles.bddvNow),
  ds('Euler max<=t,x', pts(tEarly, q1EulerMax).concat(pts(tEulerLate, q1EulerMaxLate)), styles.eulerMax),
  ds('Euler max_x', pts(tEarly, q1EulerNow).concat(pts(tEulerLate, q1EulerNowLate)), styles.eulerNow)
], -22, -1, {left: 91, right: 26, top: 58, bottom: 23},
  {yTicks: q1YTicks, xLabels: false},
  {slots: [
    {index: 0, x: 160, y: 268}, {index: 2, x: 263, y: 268}, {index: 4, x: 368, y: 268},
    {index: 1, x: 160, y: 305}, {index: 3, x: 263, y: 305}, {index: 5, x: 368, y: 305}
  ]});

panel('q0', [
  ds('msilcc max<=t,x', pts(tEarly, q0MsilccMax).concat(pts(tLate, q0MsilccMaxLate)), styles.msilccMax),
  ds('msilcc max_x', pts(tEarly, q0MsilccNow), styles.msilccNow),
  ds('BDdV max<=t,x', pts(tEarly, q0BddvMax).concat(pts(tLate, q0BddvMaxLate)), styles.bddvMax),
  ds('BDdV max_x', pts(tEarly, q0BddvNow), styles.bddvNow),
  ds('Euler max<=t,x', pts(tEarly, q0EulerMax).concat(pts(tEulerLate, q0EulerMaxLate)), styles.eulerMax),
  ds('Euler max_x', pts(tEarly, q0EulerNow).concat(pts(tEulerLate, q0EulerNowLate)), styles.eulerNow)
], -17, -1, {left: 91, right: 26, top: 28, bottom: 77},
  {yTicks: q0YTicks, xLabels: true},
  {});
</script>
</body>
</html>
